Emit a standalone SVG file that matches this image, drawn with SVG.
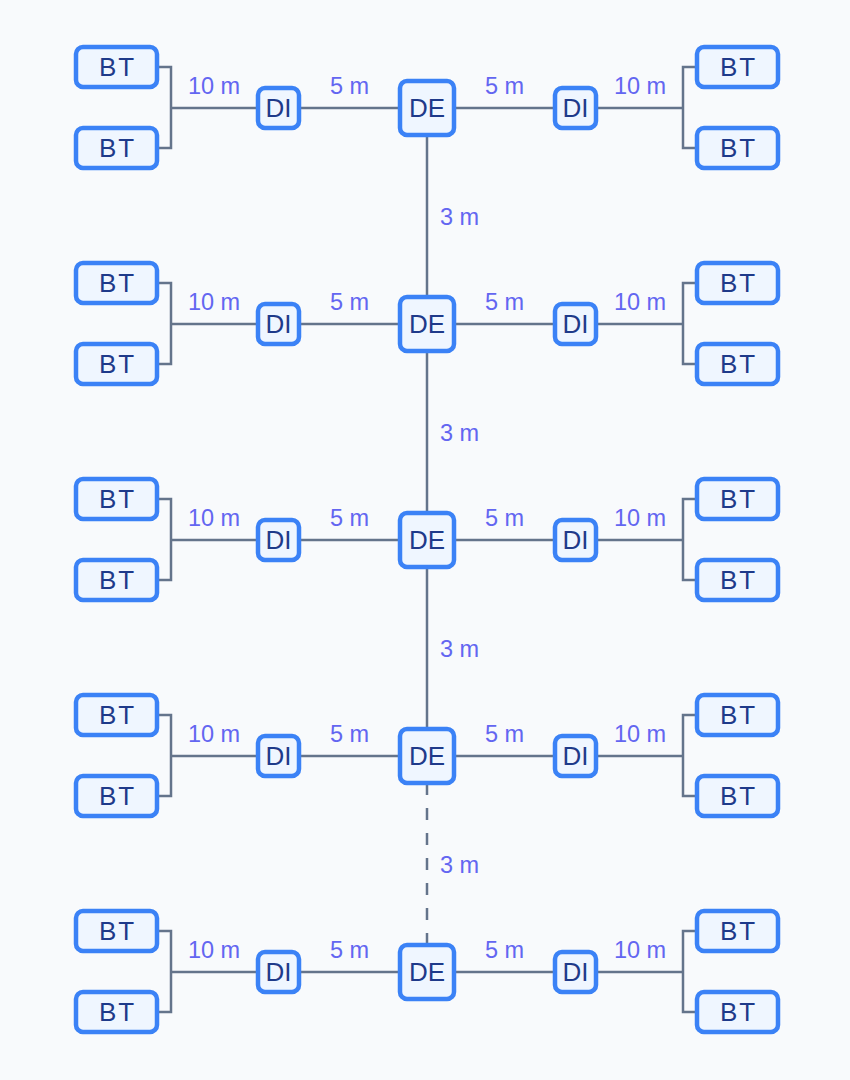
<svg xmlns="http://www.w3.org/2000/svg" width="850" height="1080" viewBox="0 0 850 1080">
<style>
.n rect{fill:#eff6ff;stroke:#3b82f6;stroke-width:4.5}
.n text{font-family:"Liberation Sans",Arial,sans-serif;font-size:26px;fill:#1e3a8a;text-anchor:middle}
.n .b{letter-spacing:2px}
.c path{fill:none;stroke:#64748b;stroke-width:2.5}
.c .d{stroke-dasharray:12 13}
.l text{font-family:"Liberation Sans",Arial,sans-serif;font-size:23.5px;fill:#6366f1}
.m{text-anchor:middle}
</style>
<rect width="850" height="1080" fill="#f8fafc"/>
<g class="c" id="connectors">
<path d="M157 67H171V148H157M171 108H258M299 108H400M454 108H555M596 108H683M697 67H683V148H697"/>
<path d="M157 283H171V364H157M171 324H258M299 324H400M454 324H555M596 324H683M697 283H683V364H697"/>
<path d="M157 499H171V580H157M171 540H258M299 540H400M454 540H555M596 540H683M697 499H683V580H697"/>
<path d="M157 715H171V796H157M171 756H258M299 756H400M454 756H555M596 756H683M697 715H683V796H697"/>
<path d="M157 931H171V1012H157M171 972H258M299 972H400M454 972H555M596 972H683M697 931H683V1012H697"/>
<path d="M427 135V297M427 351V513M427 567V729"/>
<path class="d" d="M427 783V945"/>
</g>
<g class="l" id="labels">
<text class="m" x="214" y="93.5">10 m</text><text class="m" x="349.5" y="93.5">5 m</text><text class="m" x="504.5" y="93.5">5 m</text><text class="m" x="640" y="93.5">10 m</text>
<text class="m" x="214" y="309.5">10 m</text><text class="m" x="349.5" y="309.5">5 m</text><text class="m" x="504.5" y="309.5">5 m</text><text class="m" x="640" y="309.5">10 m</text>
<text class="m" x="214" y="525.5">10 m</text><text class="m" x="349.5" y="525.5">5 m</text><text class="m" x="504.5" y="525.5">5 m</text><text class="m" x="640" y="525.5">10 m</text>
<text class="m" x="214" y="741.5">10 m</text><text class="m" x="349.5" y="741.5">5 m</text><text class="m" x="504.5" y="741.5">5 m</text><text class="m" x="640" y="741.5">10 m</text>
<text class="m" x="214" y="957.5">10 m</text><text class="m" x="349.5" y="957.5">5 m</text><text class="m" x="504.5" y="957.5">5 m</text><text class="m" x="640" y="957.5">10 m</text>
<text x="440" y="225">3 m</text><text x="440" y="441">3 m</text><text x="440" y="657">3 m</text><text x="440" y="873">3 m</text>
</g>
<g class="n" id="bt-1-l1"><rect x="76" y="47" width="81" height="40" rx="7"/><text class="b" x="117.5" y="76.3">BT</text></g>
<g class="n" id="bt-1-l2"><rect x="76" y="128" width="81" height="40" rx="7"/><text class="b" x="117.5" y="157.3">BT</text></g>
<g class="n" id="di-1-l"><rect x="258" y="88" width="41" height="40" rx="7"/><text x="278.5" y="117.3">DI</text></g>
<g class="n" id="de-1"><rect x="400" y="81" width="54" height="54" rx="7"/><text x="427" y="117.3">DE</text></g>
<g class="n" id="di-1-r"><rect x="555" y="88" width="41" height="40" rx="7"/><text x="575.5" y="117.3">DI</text></g>
<g class="n" id="bt-1-r1"><rect x="697" y="47" width="81" height="40" rx="7"/><text class="b" x="738.5" y="76.3">BT</text></g>
<g class="n" id="bt-1-r2"><rect x="697" y="128" width="81" height="40" rx="7"/><text class="b" x="738.5" y="157.3">BT</text></g>
<g class="n" id="bt-2-l1"><rect x="76" y="263" width="81" height="40" rx="7"/><text class="b" x="117.5" y="292.3">BT</text></g>
<g class="n" id="bt-2-l2"><rect x="76" y="344" width="81" height="40" rx="7"/><text class="b" x="117.5" y="373.3">BT</text></g>
<g class="n" id="di-2-l"><rect x="258" y="304" width="41" height="40" rx="7"/><text x="278.5" y="333.3">DI</text></g>
<g class="n" id="de-2"><rect x="400" y="297" width="54" height="54" rx="7"/><text x="427" y="333.3">DE</text></g>
<g class="n" id="di-2-r"><rect x="555" y="304" width="41" height="40" rx="7"/><text x="575.5" y="333.3">DI</text></g>
<g class="n" id="bt-2-r1"><rect x="697" y="263" width="81" height="40" rx="7"/><text class="b" x="738.5" y="292.3">BT</text></g>
<g class="n" id="bt-2-r2"><rect x="697" y="344" width="81" height="40" rx="7"/><text class="b" x="738.5" y="373.3">BT</text></g>
<g class="n" id="bt-3-l1"><rect x="76" y="479" width="81" height="40" rx="7"/><text class="b" x="117.5" y="508.3">BT</text></g>
<g class="n" id="bt-3-l2"><rect x="76" y="560" width="81" height="40" rx="7"/><text class="b" x="117.5" y="589.3">BT</text></g>
<g class="n" id="di-3-l"><rect x="258" y="520" width="41" height="40" rx="7"/><text x="278.5" y="549.3">DI</text></g>
<g class="n" id="de-3"><rect x="400" y="513" width="54" height="54" rx="7"/><text x="427" y="549.3">DE</text></g>
<g class="n" id="di-3-r"><rect x="555" y="520" width="41" height="40" rx="7"/><text x="575.5" y="549.3">DI</text></g>
<g class="n" id="bt-3-r1"><rect x="697" y="479" width="81" height="40" rx="7"/><text class="b" x="738.5" y="508.3">BT</text></g>
<g class="n" id="bt-3-r2"><rect x="697" y="560" width="81" height="40" rx="7"/><text class="b" x="738.5" y="589.3">BT</text></g>
<g class="n" id="bt-4-l1"><rect x="76" y="695" width="81" height="40" rx="7"/><text class="b" x="117.5" y="724.3">BT</text></g>
<g class="n" id="bt-4-l2"><rect x="76" y="776" width="81" height="40" rx="7"/><text class="b" x="117.5" y="805.3">BT</text></g>
<g class="n" id="di-4-l"><rect x="258" y="736" width="41" height="40" rx="7"/><text x="278.5" y="765.3">DI</text></g>
<g class="n" id="de-4"><rect x="400" y="729" width="54" height="54" rx="7"/><text x="427" y="765.3">DE</text></g>
<g class="n" id="di-4-r"><rect x="555" y="736" width="41" height="40" rx="7"/><text x="575.5" y="765.3">DI</text></g>
<g class="n" id="bt-4-r1"><rect x="697" y="695" width="81" height="40" rx="7"/><text class="b" x="738.5" y="724.3">BT</text></g>
<g class="n" id="bt-4-r2"><rect x="697" y="776" width="81" height="40" rx="7"/><text class="b" x="738.5" y="805.3">BT</text></g>
<g class="n" id="bt-5-l1"><rect x="76" y="911" width="81" height="40" rx="7"/><text class="b" x="117.5" y="940.3">BT</text></g>
<g class="n" id="bt-5-l2"><rect x="76" y="992" width="81" height="40" rx="7"/><text class="b" x="117.5" y="1021.3">BT</text></g>
<g class="n" id="di-5-l"><rect x="258" y="952" width="41" height="40" rx="7"/><text x="278.5" y="981.3">DI</text></g>
<g class="n" id="de-5"><rect x="400" y="945" width="54" height="54" rx="7"/><text x="427" y="981.3">DE</text></g>
<g class="n" id="di-5-r"><rect x="555" y="952" width="41" height="40" rx="7"/><text x="575.5" y="981.3">DI</text></g>
<g class="n" id="bt-5-r1"><rect x="697" y="911" width="81" height="40" rx="7"/><text class="b" x="738.5" y="940.3">BT</text></g>
<g class="n" id="bt-5-r2"><rect x="697" y="992" width="81" height="40" rx="7"/><text class="b" x="738.5" y="1021.3">BT</text></g>
</svg>
